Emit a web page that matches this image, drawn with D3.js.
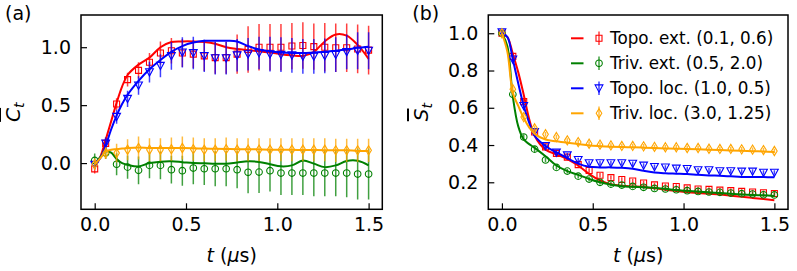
<!DOCTYPE html>
<html>
<head>
<meta charset="UTF-8">
<script src="https://d3js.org/d3.v7.min.js"></script>
<style>
  body { margin: 0; background: #fff; }
  text { font-family: "DejaVu Sans", sans-serif; fill: #000; }
</style>
</head>
<body>
<svg id="chart" width="797" height="271"></svg>
<script>
// measured times (us) and fit-curve times
var tData = [0, 0.06, 0.12, 0.18, 0.24, 0.30, 0.36, 0.42, 0.48, 0.54, 0.60, 0.66, 0.72,
             0.78, 0.84, 0.90, 0.96, 1.02, 1.08, 1.14, 1.20, 1.26, 1.32, 1.38, 1.44, 1.50];
var tFit = [0, 0.03, 0.06, 0.09, 0.12, 0.15, 0.18, 0.24, 0.30, 0.36, 0.42, 0.48, 0.54, 0.60,
            0.66, 0.72, 0.78, 0.84, 0.90, 0.96, 1.02, 1.08, 1.14, 1.20, 1.26, 1.32, 1.38, 1.44, 1.50];

var labels = ["Topo. ext. (0.1, 0.6)", "Triv. ext. (0.5, 2.0)", "Topo. loc. (1.0, 0.5)", "Triv. loc. (3.0, 1.25)"];
var colors = ["#ff0000", "#008000", "#0000ff", "#ffa500"];
var symbols = ["square", "circle", "triDown", "thinDiamond"];

// panel (a): C_t
var ctTopoExt = [-0.05, 0.17, 0.51, 0.72, 0.80, 0.87, 0.95, 0.97, 0.95, 0.94, 0.925, 0.91, 0.91,
                 0.94, 0.98, 1.0, 1.0, 1.0, 1.01, 1.015, 1.005, 1.0, 0.995, 0.995, 0.985, 0.975];
var ctTopoExtErr = [0.04, 0.05, 0.05, 0.06, 0.07, 0.08, 0.1, 0.11, 0.12, 0.12, 0.13, 0.14, 0.14,
                    0.17, 0.2, 0.2, 0.2, 0.2, 0.2, 0.2, 0.2, 0.21, 0.21, 0.21, 0.21, 0.21];
var ctTrivExt = [0.023, 0.086, -0.01, -0.035, -0.063, -0.02, -0.02, -0.057, -0.066, -0.043, -0.049, -0.049, -0.049,
                 -0.057, -0.08, -0.078, -0.066, -0.086, -0.086, -0.086, -0.086, -0.086, -0.086, -0.086, -0.095, -0.095];
var ctTrivExtErr = [0.06, 0.05, 0.095, 0.1, 0.12, 0.11, 0.12, 0.12, 0.13, 0.14, 0.14, 0.15, 0.15,
                    0.16, 0.18, 0.18, 0.18, 0.19, 0.19, 0.19, 0.2, 0.2, 0.2, 0.21, 0.22, 0.22];
var ctTopoLoc = [-0.015, 0.17, 0.40, 0.555, 0.67, 0.785, 0.84, 0.925, 0.955, 0.95, 0.925, 0.905, 0.905,
                 0.93, 0.94, 0.95, 0.94, 0.935, 0.93, 0.92, 0.92, 0.925, 0.935, 0.96, 0.97, 0.97];
var ctTopoLocErr = [0.03, 0.05, 0.06, 0.07, 0.08, 0.09, 0.1, 0.12, 0.13, 0.14, 0.14, 0.14, 0.14,
                    0.14, 0.14, 0.14, 0.15, 0.15, 0.15, 0.15, 0.15, 0.15, 0.15, 0.15, 0.16, 0.16];
var ctTrivLoc = [-0.01, 0.086, 0.086, 0.115, 0.13, 0.115, 0.115, 0.12, 0.13, 0.12, 0.115, 0.115, 0.12,
                 0.115, 0.115, 0.115, 0.115, 0.115, 0.115, 0.115, 0.115, 0.115, 0.11, 0.11, 0.11, 0.11];
var ctTrivLocErr = [0.05, 0.05, 0.08, 0.09, 0.1, 0.1, 0.1, 0.1, 0.1, 0.1, 0.1, 0.1, 0.1,
                    0.1, 0.1, 0.1, 0.1, 0.1, 0.1, 0.1, 0.1, 0.1, 0.1, 0.1, 0.1, 0.1];

var ctFitTopoExt = [-0.03, 0.05, 0.2, 0.36, 0.52, 0.66, 0.76, 0.85, 0.91, 1.0, 1.045, 1.05, 1.05, 1.045,
                    1.03, 1.0, 0.985, 0.975, 0.965, 0.955, 0.94, 0.93, 0.925, 0.96, 1.05, 1.11, 1.1, 1.02, 0.9];
var ctFitTrivExt = [-0.01, 0.05, 0.1, 0.09, 0.035, 0.0, -0.015, -0.03, 0.0, 0.012, 0.015, 0.008, 0.0, -0.002,
                    -0.005, -0.005, 0.005, 0.015, 0.01, -0.01, -0.028, -0.02, 0.022, -0.005, -0.035, -0.02, 0.018, 0.02, -0.02];
var ctFitTopoLoc = [0.0, 0.04, 0.15, 0.29, 0.41, 0.51, 0.59, 0.71, 0.81, 0.89, 0.96, 1.01, 1.04, 1.055,
                    1.055, 1.055, 1.05, 1.01, 0.98, 0.965, 0.955, 0.95, 0.95, 0.955, 0.96, 0.97, 0.98, 0.995, 1.005];
var ctFitTrivLoc = [-0.01, 0.04, 0.1, 0.115, 0.12, 0.125, 0.13, 0.135, 0.13, 0.13, 0.13, 0.13, 0.128, 0.125,
                    0.124, 0.122, 0.12, 0.12, 0.118, 0.116, 0.115, 0.114, 0.113, 0.112, 0.111, 0.11, 0.11, 0.105, 0.105];

// panel (b): S_t
var stTopoExt = [1.0, 0.876, 0.633, 0.47, 0.39, 0.355, 0.335, 0.295, 0.263, 0.238, 0.225, 0.215, 0.207,
                 0.196, 0.186, 0.18, 0.177, 0.17, 0.164, 0.162, 0.158, 0.155, 0.151, 0.148, 0.144, 0.14];
var stTrivExt = [1.0, 0.672, 0.443, 0.378, 0.32, 0.28, 0.26, 0.233, 0.217, 0.2, 0.19, 0.185, 0.178,
                 0.173, 0.167, 0.164, 0.16, 0.155, 0.151, 0.148, 0.146, 0.142, 0.139, 0.137, 0.133, 0.132];
var stTopoLoc = [1.005, 0.86, 0.61, 0.47, 0.395, 0.36, 0.345, 0.32, 0.303, 0.303, 0.303, 0.303, 0.30,
                 0.29, 0.283, 0.28, 0.274, 0.272, 0.265, 0.265, 0.26, 0.26, 0.258, 0.258, 0.252, 0.252];
var stTrivLoc = [1.0, 0.70, 0.55, 0.49, 0.458, 0.443, 0.425, 0.416, 0.407, 0.402, 0.398, 0.395, 0.395,
                 0.393, 0.39, 0.388, 0.388, 0.384, 0.384, 0.38, 0.379, 0.379, 0.377, 0.375, 0.373, 0.368];
var stErr = [0.012, 0.015, 0.015, 0.015, 0.012, 0.012, 0.012, 0.012, 0.012, 0.012, 0.012, 0.012, 0.012,
             0.012, 0.012, 0.012, 0.012, 0.012, 0.012, 0.012, 0.012, 0.012, 0.012, 0.012, 0.012, 0.012];

var stFitTopoExt = [1.0, 0.98, 0.89, 0.79, 0.67, 0.54, 0.45, 0.375, 0.35, 0.325, 0.29, 0.245, 0.21, 0.19,
                    0.182, 0.178, 0.174, 0.168, 0.16, 0.153, 0.147, 0.142, 0.138, 0.134, 0.128, 0.122, 0.116, 0.11, 0.104];
var stFitTrivExt = [1.0, 0.93, 0.66, 0.5, 0.43, 0.405, 0.385, 0.34, 0.29, 0.26, 0.24, 0.218, 0.2, 0.187,
                    0.179, 0.176, 0.174, 0.17, 0.165, 0.158, 0.154, 0.15, 0.146, 0.142, 0.138, 0.135, 0.132, 0.13, 0.127];
var stFitTopoLoc = [1.0, 0.98, 0.86, 0.73, 0.61, 0.52, 0.45, 0.395, 0.36, 0.33, 0.3, 0.283, 0.28, 0.28,
                    0.278, 0.273, 0.262, 0.252, 0.248, 0.246, 0.244, 0.24, 0.237, 0.235, 0.232, 0.229, 0.228, 0.228, 0.227];
var stFitTrivLoc = [1.0, 0.9, 0.68, 0.61, 0.545, 0.495, 0.46, 0.43, 0.42, 0.412, 0.405, 0.398, 0.394, 0.391,
                    0.389, 0.388, 0.386, 0.384, 0.382, 0.38, 0.379, 0.377, 0.375, 0.373, 0.371, 0.369, 0.367, 0.365, 0.363];

var yTicksA = [0.0, 0.5, 1.0];
var yTicksB = [0.2, 0.4, 0.6, 0.8, 1.0];
var xTicks = [0.0, 0.5, 1.0, 1.5];

var svg = d3.select("#chart");

function markerPath(sym) {
  if (sym == "square") return "M-3,-3H3V3H-3Z";
  if (sym == "circle") return "M3.3,0A3.3,3.3 0 1,1 -3.3,0A3.3,3.3 0 1,1 3.3,0Z";
  if (sym == "triDown") return "M-3.9,-3.4L3.9,-3.4L0,3.9Z";
  return "M0,-4.6L2.8,0L0,4.6L-2.8,0Z";
}

function panel(opts) {
  var x = d3.scaleLinear().domain([-0.075, 1.575]).range([opts.left, opts.right]);
  var y = d3.scaleLinear().domain(opts.yDomain).range([opts.bottom, opts.top]);

  var clipId = "clip" + opts.name;
  svg.append("clipPath").attr("id", clipId).append("rect")
      .attr("x", opts.left).attr("y", opts.top)
      .attr("width", opts.right - opts.left).attr("height", opts.bottom - opts.top);

  var plot = svg.append("g").attr("clip-path", "url(#" + clipId + ")");
  var line = d3.line().x(function(d) { return x(d[0]); }).y(function(d) { return y(d[1]); })
      .curve(d3.curveCatmullRom);

  opts.series.forEach(function(s, i) {
    var g = plot.append("g");
    g.append("path")
        .attr("d", line(tFit.map(function(t, j) { return [t, s.fit[j]]; })))
        .attr("fill", "none").attr("stroke", colors[i]).attr("stroke-width", 2);
    g.selectAll("line.err").data(tData).enter().append("line")
        .attr("x1", function(t) { return x(t); })
        .attr("x2", function(t) { return x(t); })
        .attr("y1", function(t, j) { return y(s.val[j] - s.err[j]); })
        .attr("y2", function(t, j) { return y(s.val[j] + s.err[j]); })
        .attr("stroke", colors[i]).attr("stroke-width", 1.5).attr("stroke-opacity", 0.75);
    g.selectAll("path.mk").data(tData).enter().append("path")
        .attr("d", markerPath(symbols[i]))
        .attr("transform", function(t, j) { return "translate(" + x(t) + "," + y(s.val[j]) + ")"; })
        .attr("fill", "none").attr("stroke", colors[i]).attr("stroke-width", 1.1);
  });

  // axes with inward ticks
  var xAxis = d3.axisBottom(x).tickValues(xTicks).tickFormat(d3.format(".1f"))
      .tickSizeInner(-6).tickSizeOuter(0).tickPadding(8);
  var yAxis = d3.axisLeft(y).tickValues(opts.yTicks).tickFormat(d3.format(".1f"))
      .tickSizeInner(-6).tickSizeOuter(0).tickPadding(10);
  var gx = svg.append("g").attr("transform", "translate(0," + opts.bottom + ")").call(xAxis);
  var gy = svg.append("g").attr("transform", "translate(" + opts.left + ",0)").call(yAxis);
  [gx, gy].forEach(function(a) {
    a.select(".domain").remove();
    a.selectAll("line").attr("stroke", "#000").attr("stroke-width", 1.2);
    a.selectAll("text").attr("font-size", 19).attr("font-family", "DejaVu Sans").attr("fill", "#000");
  });

  svg.append("rect")
      .attr("x", opts.left).attr("y", opts.top)
      .attr("width", opts.right - opts.left).attr("height", opts.bottom - opts.top)
      .attr("fill", "none").attr("stroke", "#000").attr("stroke-width", 1.5);

  svg.append("text").attr("x", opts.left - 76).attr("y", 20).attr("font-size", 19).text(opts.tag);

  var xl = svg.append("text").attr("x", (opts.left + opts.right) / 2).attr("y", 262)
      .attr("text-anchor", "middle").attr("font-size", 19);
  xl.append("tspan").attr("font-style", "italic").text("t");
  xl.append("tspan").text(" (");
  xl.append("tspan").attr("font-style", "italic").text("\u03bc");
  xl.append("tspan").text("s)");

  var yl = svg.append("text")
      .attr("transform", "translate(" + opts.ylabelX + "," + ((opts.top + opts.bottom) / 2) + ") rotate(-90)")
      .attr("text-anchor", "middle").attr("font-size", 20);
  yl.append("tspan").attr("font-style", "italic").attr("text-decoration", "overline").text(opts.ysym);
  yl.append("tspan").attr("font-style", "italic").attr("font-size", 14).attr("dy", 4).text("t");

  return { x: x, y: y };
}

panel({
  name: "a", tag: "(a)", left: 81, right: 382.3, top: 15, bottom: 209.3,
  yDomain: [-0.399, 1.278], yTicks: yTicksA, ysym: "C", ylabelX: 20,
  series: [
    { val: ctTopoExt, err: ctTopoExtErr, fit: ctFitTopoExt },
    { val: ctTrivExt, err: ctTrivExtErr, fit: ctFitTrivExt },
    { val: ctTopoLoc, err: ctTopoLocErr, fit: ctFitTopoLoc },
    { val: ctTrivLoc, err: ctTrivLocErr, fit: ctFitTrivLoc }
  ]
});

panel({
  name: "b", tag: "(b)", left: 488.3, right: 788, top: 15, bottom: 209.3,
  yDomain: [0.055, 1.098], yTicks: yTicksB, ysym: "S", ylabelX: 428,
  series: [
    { val: stTopoExt, err: stErr, fit: stFitTopoExt },
    { val: stTrivExt, err: stErr, fit: stFitTrivExt },
    { val: stTopoLoc, err: stErr, fit: stFitTopoLoc },
    { val: stTrivLoc, err: stErr, fit: stFitTrivLoc }
  ]
});

// legend in panel (b)
var leg = svg.append("g");
labels.forEach(function(lab, i) {
  var cy = 38.3 + i * 25;
  leg.append("line").attr("x1", 571).attr("x2", 583.5).attr("y1", cy).attr("y2", cy)
      .attr("stroke", colors[i]).attr("stroke-width", 2);
  leg.append("line").attr("x1", 599).attr("x2", 599).attr("y1", cy - 6.7).attr("y2", cy + 6.7)
      .attr("stroke", colors[i]).attr("stroke-width", 1.5).attr("stroke-opacity", 0.75);
  leg.append("path").attr("d", markerPath(symbols[i]))
      .attr("transform", "translate(599," + cy + ")")
      .attr("fill", "none").attr("stroke", colors[i]).attr("stroke-width", 1.1);
  leg.append("text").attr("x", 610).attr("y", cy + 6).attr("font-size", 16.8).text(lab);
});
</script>
</body>
</html>
